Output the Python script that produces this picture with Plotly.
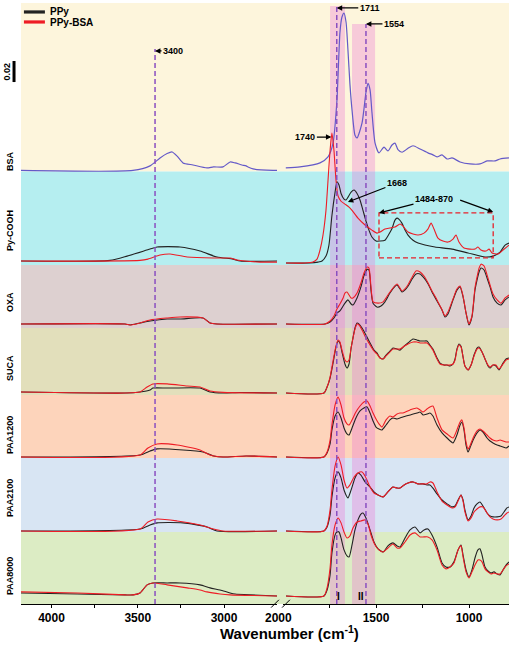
import plotly.graph_objects as go

# ---------------- data (absorbance in display units, relative to each panel baseline) ----------------
SAMPLES = ["BSA", "Py-COOH", "OXA", "SUCA", "PAA1200", "PAA2100", "PAA8000"]
OFFSETS = [333.5, 263.8, 215.4, 162.3, 113.1, 56.2, 6.2]
BAND_EDGES = [462.3, 332.7, 260.8, 212.3, 160.8, 112.3, 55.4, 0]
PANEL_COLORS = ["#fdf5dc", "#b5eef0", "#ddd0d0", "#e2dfbb", "#fdd4bb", "#d8e5f3", "#dcecc4"]
LABEL_Y = [340.8, 286.9, 232.3, 181.5, 130.0, 81.5, 21.5]

LEGEND_NAMES = ["PPy", "PPy-BSA"]
LINE_COLORS = ["#222222", "#ee1c25"]
BSA_COLOR = "#6459c8"

PEAK_LINES = [3400, 1711, 1554]
BAND_I = [1747, 1667]
BAND_II = [1629, 1505]
BOX_RANGE = [1484, 870]
SCALE_BAR_0_02 = 16.2

LEFT_TICKS = [4000, 3750, 3500, 3250, 3000]
LEFT_LABELS = ["4000", "", "3500", "", "3000"]
RIGHT_TICKS = [2000, 1750, 1500, 1250, 1000]
RIGHT_LABELS = ["2000", "", "1500", "", "1000"]

# BSA (single spectrum)
BSA_L = [(4177,0),(3528,0),(3429,3.5),(3371,9.6),(3330,13),(3301,14.2),(3272,11),(3238,5.8),(3180,4.2),
         (3099,1.9),(3061,2.7),(3006,2.7),(2965,6.5),(2936,5.8),(2896,4.2),(2872,3.5),(2861,2.7),(2832,1.2),
         (2716,0),(2693,0)]
BSA_R = [(1985,1.9),(1909,2.7),(1801,5.8),(1758,10.4),(1731,21),(1710,54),(1694,106),(1683,118),(1672,121),
         (1661,114),(1651,93),(1640,66),(1629,46.5),(1613,27),(1602,25),(1575,36.5),(1554,60),(1543,67),
         (1532,62),(1522,45),(1505,21),(1484,13.5),(1457,18),(1436,15),(1414,19.6),(1398,21),(1382,16),
         (1360,14),(1328,17),(1301,19),(1263,16.5),(1221,13.5),(1194,12),(1172,10.4),(1145,12),(1118,8.8),
         (1091,9.6),(1048,6.5),(995,5),(941,5),(903,7.3),(860,7.3),(833,8.8),(785,9.6)]

# Py-COOH
PY_BLACK_L = [(4177,0),(3661,0.5),(3562,3.8),(3429,9.2),(3388,10.8),(3255,10.8),(3139,7.7),(3041,3.1),
              (2948,1.5),(2907,0),(2693,0)]
PY_RED_L = [(4177,0),(3487,0.5),(3441,1.5),(3371,4.6),(3313,5.4),(3214,3.1),(3061,2.3),(2965,2.3),
            (2925,0.8),(2791,-0.8),(2693,-0.8)]
PY_BLACK_R = [(1984,-1.5),(1855,-1.5),(1812,-0.8),(1790,0),(1769,3.8),(1753,12.3),(1737,35),(1720,53),
              (1710,61),(1699,58.5),(1688,52),(1672,47.7),(1661,47),(1651,49),(1634,53),(1618,54.6),
              (1602,52),(1586,47),(1570,39),(1554,30.8),(1538,23.8),(1522,18.5),(1500,15.4),(1478,15.4),
              (1452,16),(1430,20.8),(1414,25),(1398,31.5),(1387,33),(1376,32),(1360,29),(1344,23.8),
              (1328,20),(1301,16),(1274,13.8),(1237,12.3),(1183,10.8),(1091,9.2),(1005,6.2),(914,3.1),
              (871,3.8),(833,6.9),(806,12.3),(785,13.8)]
PY_RED_R = [(1984,-1.5),(1882,-1.5),(1839,-0.8),(1817,1.5),(1801,8.5),(1785,20),(1769,39),(1758,62),
            (1747,85),(1737,98.5),(1726,85),(1715,62),(1704,50),(1688,46),(1667,43.8),(1645,41.5),
            (1629,39),(1597,33),(1559,27.7),(1522,23.8),(1495,21.5),(1478,22.3),(1452,24.6),(1425,25.4),
            (1398,26.2),(1371,28.5),(1355,26.9),(1328,22.3),(1301,20.8),(1274,20),(1242,21.5),(1221,24.6),
            (1204,29.2),(1188,24.6),(1167,17.7),(1140,15.4),(1113,14.6),(1086,16.9),(1070,20),(1054,14.6),
            (1027,10),(995,9.2),(968,9.2),(952,10.8),(936,8.5),(909,7.7),(892,9.2),(876,6.2),(844,5.4),
            (817,8.5),(785,12.3)]

# OXA
OXA_BLACK_L = [(4177,0),(3574,0),(3545,-0.8),(3487,0.8),(3429,2.3),(3330,3.8),(3255,3.8),(3122,4.6),
               (3081,0.8),(3041,0),(2693,0)]
OXA_RED_L = [(4177,0),(3574,0),(3545,-0.8),(3487,0.8),(3429,3.1),(3330,4.6),(3255,5.4),(3122,4.6),
             (3081,0.8),(3041,0),(2693,0)]
OXA_BLACK_R = [(1984,0),(1774,0),(1747,1.5),(1726,4.6),(1710,8.5),(1694,10),(1677,13.8),(1667,16),
               (1651,18.5),(1634,15.4),(1624,14.6),(1602,20),(1581,28.5),(1565,37),(1548,42),(1538,41.5),
               (1527,26),(1516,16),(1495,13),(1473,13.8),(1452,17),(1425,23.8),(1398,29),(1387,30),
               (1371,26.9),(1360,24.6),(1344,26.2),(1328,29),(1306,34.6),(1285,38.5),(1263,38.5),
               (1242,35.4),(1220,30.8),(1199,24.6),(1172,17.7),(1145,10.8),(1129,5.4),(1113,7.7),
               (1086,18.5),(1065,26),(1048,28.5),(1032,20.8),(1016,8.5),(1000,-0.8),(984,5.4),(968,26),
               (957,33.8),(946,40),(935,43),(919,41.5),(903,35.4),(887,28.5),(871,20.8),(849,16),
               (828,14.6),(806,18.5),(785,20.8)]
OXA_RED_R = [(1984,0),(1774,0),(1747,2.3),(1726,6.2),(1710,11.5),(1694,15.4),(1677,20),(1667,23.8),
             (1656,24.6),(1645,22.3),(1634,20),(1624,20),(1602,23.8),(1581,31.5),(1565,39),(1548,43.8),
             (1538,43),(1527,28.5),(1516,17),(1489,16),(1462,17),(1425,24.6),(1387,30.8),(1360,25.4),
             (1333,29),(1306,36),(1285,40.8),(1263,40),(1242,36.9),(1220,31.5),(1199,25.4),(1172,18.5),
             (1145,10.8),(1129,6.2),(1113,9.2),(1086,19.2),(1065,26.9),(1048,29.2),(1032,21.5),
             (1016,8.5),(1000,0),(984,6.2),(968,27.7),(957,36),(946,43),(935,46),(919,44.6),(903,37.7),
             (887,30),(871,23.1),(849,18.5),(828,16),(806,20),(785,22.3)]

# SUCA
SUCA_BLACK_L = [(4177,0.8),(3574,0),(3487,0.8),(3429,2.3),(3412,3.8),(3330,3.8),(3139,3.8),(3081,0.8),
                (3006,0),(2907,0.4),(2693,0)]
SUCA_RED_L = [(4177,0.8),(3574,0),(3487,0.8),(3446,4.6),(3412,7),(3330,7),(3214,5.4),(3139,4.6),
              (3081,1.5),(3006,0.5),(2693,0)]
SUCA_BLACK_R = [(1984,0),(1780,0),(1763,4.6),(1747,11.5),(1731,23),(1715,35.4),(1704,40),(1694,38.5),
                (1683,31.5),(1667,22.3),(1656,19.2),(1645,22.3),(1634,34.6),(1624,42.3),(1613,50),
                (1602,53.8),(1591,53),(1575,50),(1554,44.6),(1532,38.5),(1511,33),(1495,30.8),(1478,26.9),
                (1462,26.2),(1446,29.2),(1430,31.5),(1409,34.6),(1387,33.8),(1371,33),(1349,36),(1328,38.5),
                (1301,41.5),(1280,40.8),(1263,40),(1242,40),(1226,40),(1210,36.9),(1194,33.8),(1172,26.9),
                (1156,23),(1134,21.5),(1118,21.5),(1102,20.8),(1086,22.3),(1075,26.2),(1065,33.8),
                (1054,37.7),(1043,36),(1032,27.7),(1022,20.8),(1005,17.7),(989,21.5),(973,29.2),(957,34.6),
                (946,35.4),(930,31.5),(914,26.2),(898,20.8),(887,19.2),(871,21.5),(855,20.8),(839,17.7),
                (817,23),(801,26.2),(785,26.9)]
SUCA_RED_R = [(1984,0),(1780,0),(1763,4.6),(1747,12.3),(1731,24.6),(1715,36.2),(1704,40.8),(1694,39.2),
              (1683,33),(1667,25.4),(1656,23.8),(1645,25.4),(1634,34.6),(1624,42.3),(1613,49.2),(1602,53),
              (1591,52.3),(1575,48.5),(1554,42.3),(1532,37),(1511,32.3),(1495,30),(1478,26.9),(1462,26.2),
              (1446,28.5),(1430,30.8),(1409,33.8),(1387,33.8),(1371,33.8),(1349,36),(1328,37.7),(1301,39.2),
              (1280,39.2),(1263,38.5),(1242,38.5),(1226,38.5),(1210,36.2),(1194,33),(1172,26.2),(1156,22.3),
              (1134,21.5),(1118,21.5),(1102,21.5),(1086,22.3),(1075,25.4),(1065,33),(1054,36.9),(1043,35.4),
              (1032,27.7),(1022,20.8),(1005,17.7),(989,21.5),(973,28.5),(957,33.8),(946,34.6),(930,31.5),
              (914,26.2),(898,21.5),(887,20),(871,21.5),(855,21.5),(839,18.5),(817,22.3),(801,25.4),
              (785,26.2)]

# PAA1200
PAA1200_BLACK_L = [(4177,0),(3487,1.5),(3429,4.6),(3388,6.2),(3238,5.4),(3122,3.8),(3061,0.8),(3006,0),
                   (2872,0.8),(2693,0)]
PAA1200_RED_L = [(4177,0),(3487,1.5),(3441,6.9),(3388,10),(3272,9.2),(3139,5.4),(3081,1.5),(3006,0),
                 (2872,0.8),(2693,0)]
PAA1200_BLACK_R = [(1984,0),(1780,0),(1763,3.1),(1747,10),(1737,20.8),(1720,31.5),(1704,34.6),(1688,30),
                   (1672,22.3),(1656,17.7),(1645,16.9),(1629,22.3),(1608,30),(1586,35.4),(1565,37.7),
                   (1548,38.5),(1532,33.8),(1516,27.7),(1500,23),(1484,21.5),(1468,20.8),(1446,24.6),
                   (1425,28.5),(1409,30),(1387,29.2),(1371,30),(1355,30.8),(1317,32.3),(1280,33.8),
                   (1263,34.6),(1247,32.3),(1226,33),(1210,33.8),(1194,31.5),(1172,24.6),(1145,18.5),
                   (1118,14.6),(1086,10.8),(1065,16.9),(1048,24.6),(1038,26.9),(1027,20.8),(1016,9.2),
                   (1005,3.8),(995,6.9),(978,13),(957,18.5),(941,20.8),(925,19.2),(903,14.6),(887,12.3),
                   (871,10.8),(849,9.2),(833,8.5),(817,7.7),(801,6.9),(785,8.5)]
PAA1200_RED_R = [(1984,0),(1780,0),(1763,3.8),(1747,13),(1737,24.6),(1720,40),(1704,46),(1688,40),
                 (1672,30),(1656,25.4),(1645,24.6),(1629,28.5),(1608,34.6),(1586,39.2),(1565,42.3),
                 (1548,43),(1532,39.2),(1516,33.8),(1500,29.2),(1484,25.4),(1468,23),(1446,28.5),
                 (1425,31.5),(1409,30.8),(1387,33),(1371,33.8),(1355,33.8),(1317,36.2),(1280,37.7),
                 (1263,36.2),(1247,34.6),(1226,36.9),(1210,38.5),(1194,39.2),(1172,30),(1145,20.8),
                 (1118,17.7),(1086,14.6),(1065,20.8),(1048,26.9),(1038,28.5),(1027,22.3),(1016,11.5),
                 (1005,6.2),(995,8.5),(978,14.6),(957,20),(941,21.5),(925,20),(903,16.9),(887,14.6),
                 (871,13),(849,12.3),(833,13),(817,12.3),(801,11.5),(785,11.5)]

# PAA2100
PAA2100_BLACK_L = [(4177,0),(3487,1.5),(3429,4.6),(3388,6.2),(3238,6.2),(3099,3.1),(3041,0),(2693,0)]
PAA2100_RED_L = [(4177,0),(3487,1.5),(3441,6.9),(3388,9.2),(3272,7.7),(3139,4.6),(3061,1.5),(3006,0),
                 (2693,0)]
PAA2100_BLACK_R = [(1984,0),(1780,0),(1763,3.1),(1747,12.3),(1737,26.2),(1720,40.8),(1704,45.4),
                   (1688,40.8),(1672,31.5),(1651,25.4),(1634,31.5),(1613,40.8),(1597,44.6),(1581,43),
                   (1559,37.7),(1532,33.8),(1511,30),(1489,27.7),(1462,26.2),(1436,30),(1409,33.8),
                   (1387,33),(1371,33),(1349,35.4),(1328,36.9),(1301,37.7),(1274,36.2),(1247,36.2),
                   (1226,35.4),(1210,35.4),(1194,33),(1172,28.5),(1145,23.8),(1118,20.8),(1091,18.5),
                   (1075,19.2),(1059,23.8),(1043,27.7),(1032,23.8),(1022,16.2),(1005,8.5),(989,11.5),
                   (973,17.7),(957,20.8),(941,22.3),(925,19.2),(903,13.8),(887,11.5),(871,10.8),(849,10.8),
                   (828,11.5),(812,14.6),(796,17.7),(785,18.5)]
PAA2100_RED_R = [(1984,0),(1780,0),(1763,3.8),(1747,16.2),(1737,31.5),(1720,50),(1704,56.9),(1688,50.8),
                 (1672,39.2),(1656,33),(1640,35.4),(1618,41.5),(1597,44.6),(1575,45.4),(1559,42.3),
                 (1532,33.8),(1511,29.2),(1489,27.7),(1462,26.2),(1436,30),(1409,33.8),(1387,33),(1371,33),
                 (1349,35.4),(1328,36.9),(1301,37.7),(1274,36.2),(1247,36.2),(1226,36.2),(1210,37.7),
                 (1194,36.9),(1172,30),(1145,23),(1118,20),(1091,17.7),(1075,18.5),(1059,23),(1043,27.7),
                 (1032,23),(1022,14.6),(1005,7.7),(989,10),(973,14.6),(957,16.9),(941,18.5),(925,18.5),
                 (903,13.8),(887,10.8),(871,9.2),(849,8.5),(828,9.2),(812,11.5),(796,13.8),(785,14.6)]

# PAA8000
PAA8000_BLACK_L = [(4177,2.3),(3849,1.5),(3574,0.8),(3528,0.8),(3487,2.3),(3446,8.5),(3412,10),(3330,10),
                   (3255,10),(3139,8.5),(3081,6.2),(3023,4.6),(2965,2.3),(2936,1.5),(2849,0.8),(2693,0)]
PAA8000_RED_L = [(4177,3.1),(3849,2.3),(3574,0.8),(3528,0.8),(3487,2.3),(3446,8.5),(3412,10),(3330,8.5),
                 (3214,6.2),(3139,4.6),(3099,3.1),(3023,1.5),(2965,0.8),(2693,0)]
PAA8000_BLACK_R = [(1984,0),(1780,0),(1763,4.6),(1747,16),(1737,33),(1720,47),(1710,49.2),(1699,49.2),
                   (1688,44.6),(1672,35.4),(1656,30.8),(1645,30),(1629,39.2),(1613,50.8),(1597,58.5),
                   (1581,63),(1570,63.8),(1554,60),(1532,50.8),(1511,41.5),(1489,36.2),(1462,33.8),
                   (1436,38.5),(1409,40.8),(1387,38.5),(1371,37.7),(1344,44.6),(1317,50.8),(1290,53),
                   (1263,48.5),(1242,50.8),(1221,51.5),(1199,46.9),(1172,37.7),(1145,25.4),(1124,22.3),
                   (1102,22.3),(1081,26.2),(1059,35.4),(1043,39.2),(1032,31.5),(1016,20),(1000,14.6),
                   (984,20),(968,29.2),(952,35.4),(941,36.2),(930,31.5),(914,22.3),(898,19.2),(882,17.7),
                   (866,18.5),(849,16.9),(833,16.2),(817,20),(801,23.8),(785,26.2)]
PAA8000_RED_R = [(1984,0),(1780,0),(1763,6.2),(1747,21.5),(1737,39.2),(1720,54.6),(1704,60),(1688,56.2),
                 (1672,49.2),(1656,44.6),(1640,46.2),(1624,52.3),(1602,56.9),(1581,57.7),(1559,58.5),
                 (1543,55.4),(1527,46.9),(1505,39.2),(1484,35.4),(1462,33.8),(1436,36.9),(1409,40),
                 (1387,36.9),(1371,36.9),(1344,41.5),(1317,46.9),(1290,48.5),(1263,45.4),(1242,45.4),
                 (1221,45.4),(1199,43.1),(1172,35.4),(1145,23.8),(1124,20.8),(1102,22.3),(1081,25.4),
                 (1059,35.4),(1043,38.5),(1032,30),(1016,18.5),(1000,13.8),(984,18.5),(968,23.8),(952,27.7),
                 (941,27.7),(930,26.2),(914,20.8),(898,18.5),(882,16.9),(866,17.7),(849,16.9),(833,16.9),
                 (817,20),(801,23.1),(785,24.6)]

# ---------------- figure ----------------
FONT = "Arial, Liberation Sans, sans-serif"
fig = go.Figure()


def add_curve(pairs, offset, color, axis, width=1.1):
    xs = [p[0] for p in pairs]
    ys = [p[1] + offset for p in pairs]
    fig.add_trace(go.Scatter(x=xs, y=ys, mode="lines", xaxis=axis, yaxis="y",
                             line=dict(color=color, width=width, shape="spline", smoothing=0.6),
                             showlegend=False, hoverinfo="skip"))


add_curve(BSA_L, OFFSETS[0], BSA_COLOR, "x", 1.2)
add_curve(BSA_R, OFFSETS[0], BSA_COLOR, "x2", 1.2)

pairs_table = [
    (PY_BLACK_L, PY_RED_L, PY_BLACK_R, PY_RED_R),
    (OXA_BLACK_L, OXA_RED_L, OXA_BLACK_R, OXA_RED_R),
    (SUCA_BLACK_L, SUCA_RED_L, SUCA_BLACK_R, SUCA_RED_R),
    (PAA1200_BLACK_L, PAA1200_RED_L, PAA1200_BLACK_R, PAA1200_RED_R),
    (PAA2100_BLACK_L, PAA2100_RED_L, PAA2100_BLACK_R, PAA2100_RED_R),
    (PAA8000_BLACK_L, PAA8000_RED_L, PAA8000_BLACK_R, PAA8000_RED_R),
]
for k, (bl, rl, br, rr) in enumerate(pairs_table):
    off = OFFSETS[k + 1]
    add_curve(bl, off, LINE_COLORS[0], "x")
    add_curve(br, off, LINE_COLORS[0], "x2")
    add_curve(rl, off, LINE_COLORS[1], "x")
    add_curve(rr, off, LINE_COLORS[1], "x2")

shapes = []
# panel backgrounds
for i, c in enumerate(PANEL_COLORS):
    shapes.append(dict(type="rect", xref="paper", yref="y", x0=0, x1=1,
                       y0=BAND_EDGES[i + 1], y1=BAND_EDGES[i], fillcolor=c,
                       line=dict(width=0), layer="below"))
# shaded amide bands I and II
BAND_FILL = "rgba(236,114,214,0.33)"
shapes.append(dict(type="rect", xref="x2", yref="y", x0=BAND_I[0], x1=BAND_I[1], y0=0, y1=460,
                   fillcolor=BAND_FILL, line=dict(width=0), layer="below"))
shapes.append(dict(type="rect", xref="x2", yref="y", x0=BAND_II[0], x1=BAND_II[1], y0=0, y1=446.2,
                   fillcolor=BAND_FILL, line=dict(width=0), layer="below"))
# dashed peak lines
DASH_C = "#8a4fc0"
shapes.append(dict(type="line", xref="x", yref="y", x0=PEAK_LINES[0], x1=PEAK_LINES[0], y0=0, y1=427,
                   line=dict(color=DASH_C, width=1.5, dash="5px,3px"), layer="above"))
shapes.append(dict(type="line", xref="x2", yref="y", x0=PEAK_LINES[1], x1=PEAK_LINES[1], y0=0, y1=460,
                   line=dict(color=DASH_C, width=1.5, dash="5px,3px"), layer="above"))
shapes.append(dict(type="line", xref="x2", yref="y", x0=PEAK_LINES[2], x1=PEAK_LINES[2], y0=0, y1=446.2,
                   line=dict(color=DASH_C, width=1.5, dash="5px,3px"), layer="above"))
# red dashed box 1484-870
shapes.append(dict(type="rect", xref="x2", yref="y", x0=BOX_RANGE[0], x1=BOX_RANGE[1], y0=266.2, y1=300.8,
                   line=dict(color="#e8202a", width=1.3, dash="5px,3px"), fillcolor="rgba(0,0,0,0)",
                   layer="above"))
# legend line samples
shapes.append(dict(type="line", xref="paper", yref="y", x0=0.006, x1=0.049, y0=455.4, y1=455.4,
                   line=dict(color=LINE_COLORS[0], width=3.2)))
shapes.append(dict(type="line", xref="paper", yref="y", x0=0.006, x1=0.049, y0=447.7, y1=447.7,
                   line=dict(color=LINE_COLORS[1], width=3.2)))
# scale bar
shapes.append(dict(type="line", xref="paper", yref="y", x0=-0.0143, x1=-0.0143,
                   y0=401.5, y1=401.5 + SCALE_BAR_0_02, line=dict(color="black", width=3)))
# axis break marks
for xc in [0.5205, 0.5430]:
    shapes.append(dict(type="line", xref="paper", yref="paper", x0=xc - 0.008, x1=xc + 0.008,
                       y0=-0.006, y1=0.007, line=dict(color="black", width=1)))

annotations = []
for name, y in zip(SAMPLES, LABEL_Y):
    annotations.append(dict(xref="paper", yref="y", x=-0.0225, y=y, text="<b>%s</b>" % name,
                            textangle=-90, showarrow=False, font=dict(size=9, color="black", family=FONT),
                            xanchor="center", yanchor="middle"))
annotations.append(dict(xref="paper", yref="y", x=-0.0287, y=409.6, text="<b>0.02</b>", textangle=-90,
                        showarrow=False, font=dict(size=9, color="black", family=FONT),
                        xanchor="center", yanchor="middle"))
for name, y in zip(LEGEND_NAMES, [455.6, 447.5]):
    annotations.append(dict(xref="paper", yref="y", x=0.0574, y=y, text="<b>%s</b>" % name,
                            xanchor="left", yanchor="middle", showarrow=False, borderpad=0,
                            font=dict(size=10, color="black", family=FONT)))


def arrow_note(xref, x, y, text, ax, ay):
    annotations.append(dict(xref=xref, yref="y", x=x, y=y, text=text, ax=ax, ay=ay,
                            showarrow=True, arrowhead=2, arrowsize=0.9, arrowwidth=1.2,
                            arrowcolor="black", standoff=0,
                            font=dict(size=9, color="black", family=FONT)))


arrow_note("x", 3400, 425.4, "<b>3400</b>", 18, 0)
arrow_note("x2", 1711, 458.5, "<b>1711</b>", 33, 0)
arrow_note("x2", 1554, 446.2, "<b>1554</b>", 28, 0)
arrow_note("x2", 1740, 359.2, "<b>1740</b>", -26, 0)
arrow_note("x2", 1651, 309.2, "<b>1668</b>", 49, -19)
arrow_note("x2", BOX_RANGE[0], 300.8, "<b>1484-870</b>", 55, -14)
arrow_note("x2", BOX_RANGE[1], 301.5, " ", -36, -13)

# band labels I, II
annotations.append(dict(xref="x2", yref="y", x=1699, y=5.4, text="<b>I</b>", showarrow=False,
                        font=dict(size=10, color="black", family=FONT)))
annotations.append(dict(xref="x2", yref="y", x=1581, y=5.4, text="<b>II</b>", showarrow=False,
                        font=dict(size=10, color="black", family=FONT)))
# "2000" tick label sits under the axis break
annotations.append(dict(xref="x2", yref="paper", x=RIGHT_TICKS[0], y=-0.0233, xshift=-5,
                        text="<b>%s</b>" % RIGHT_LABELS[0], showarrow=False, yanchor="middle",
                        font=dict(size=12, color="black", family=FONT)))
# axis title
annotations.append(dict(xref="paper", yref="paper", x=0.551, y=-0.048,
                        text="<b>Wavenumber (cm<sup>-1</sup>)</b>", showarrow=False,
                        font=dict(size=15, color="black", family=FONT), yanchor="middle"))

axis_common = dict(showgrid=False, zeroline=False, showline=True, linecolor="black", linewidth=1,
                   ticks="outside", ticklen=3, tickcolor="black",
                   tickfont=dict(size=12, color="black", family=FONT), fixedrange=True)

fig.update_layout(
    width=509, height=645,
    margin=dict(l=21, r=0, t=3, b=41),
    paper_bgcolor="white", plot_bgcolor="rgba(0,0,0,0)",
    showlegend=False,
    xaxis=dict(domain=[0, 0.5246], range=[4177, 2693], anchor="y",
               tickvals=LEFT_TICKS, ticktext=["<b>%s</b>" % t if t else "" for t in LEFT_LABELS],
               **axis_common),
    xaxis2=dict(domain=[0.5369, 1], range=[2000, 785], anchor="y",
                tickvals=RIGHT_TICKS[1:],
                ticktext=["<b>%s</b>" % t if t else "" for t in RIGHT_LABELS[1:]],
                **axis_common),
    yaxis=dict(range=[0, 462.3], visible=False, fixedrange=True),
    shapes=shapes, annotations=annotations,
    font=dict(family=FONT),
)

fig.write_html("out.html", config={"displayModeBar": False},
               post_script="document.body.style.margin='0';document.body.style.overflow='hidden';")
